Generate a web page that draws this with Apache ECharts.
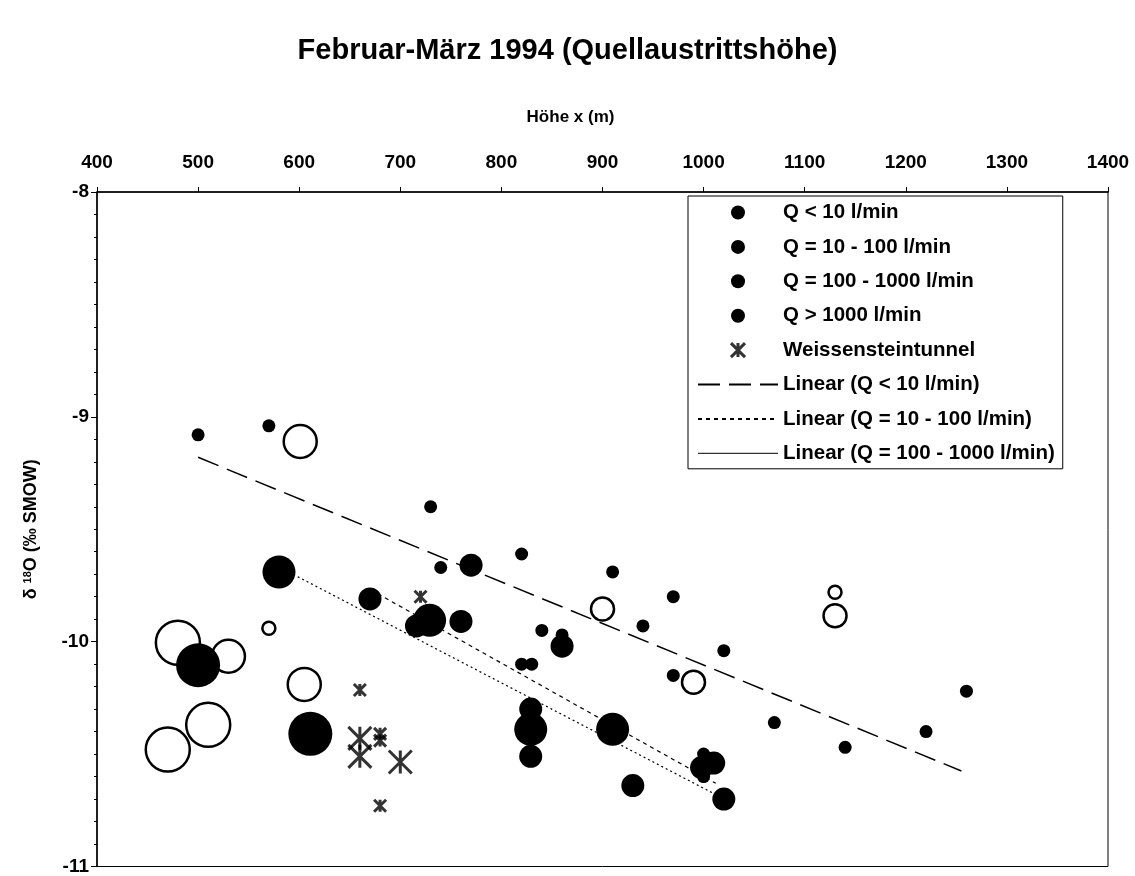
<!DOCTYPE html>
<html>
<head>
<meta charset="utf-8">
<title>Februar-März 1994 (Quellaustrittshöhe)</title>
<script src="https://cdn.jsdelivr.net/npm/echarts@6/dist/echarts.min.js"></script>
<style>
  html, body { margin: 0; padding: 0; background: #fff; }
  #chart { width: 1135px; height: 876px; }
</style>
</head>
<body>
<div id="chart"></div>
<script>
// Spring outlet elevation (m) against δ18O (‰ SMOW), February–March 1994,
// grouped by discharge class. "Open" arrays are springs drawn as rings.
const qLt10 = [
  [500, -9.08], [570, -9.04], [730, -9.40], [820, -9.61], [740, -9.67],
  [910, -9.69], [970, -9.80], [840, -9.95], [940, -9.93], [860, -9.97],
  [1020, -10.04], [970, -10.15], [820, -10.10], [830, -10.10], [1070, -10.36],
  [1140, -10.47], [1260, -10.22], [1220, -10.40], [1000, -10.50], [1000, -10.60]
];
const qLt10Open = [[570, -9.94], [1130, -9.78]];

const q10to100 = [
  [770, -9.66], [670, -9.81], [716, -9.93], [760, -9.91], [860, -10.02],
  [829, -10.30], [829, -10.51], [930, -10.64], [1010, -10.54], [998, -10.56],
  [1020, -10.70]
];
const q10to100Open = [[900, -9.855], [990, -10.18], [1130, -9.885]];

const q100to1000 = [[580, -9.69], [729, -9.905], [829, -10.39], [910, -10.39]];
const q100to1000Open = [[601, -9.11], [530, -10.065], [605, -10.19]];

const qGt1000 = [[500, -10.105], [611, -10.41]];
const qGt1000Open = [[480, -10.005], [510, -10.37], [470, -10.48]];

// Weissensteintunnel inflows: [elevation, δ18O, discharge class index]
const tunnel = [
  [720, -9.80, 0], [660, -10.215, 0], [680, -10.41, 0], [680, -10.44, 0],
  [680, -10.73, 0], [660, -10.43, 1], [660, -10.51, 1], [700, -10.535, 1]
];

// Linear fits: end points of each regression line
const fitLt10 = [[500, -9.18], [1255, -10.575]];
const fit10to100 = [[671, -9.77], [1012, -10.63]];
const fit100to1000 = [[581, -9.67], [1012, -10.68]];

const names = [
  'Q < 10 l/min', 'Q = 10 - 100 l/min', 'Q = 100 - 1000 l/min', 'Q > 1000 l/min',
  'Weissensteintunnel', 'Linear (Q < 10 l/min)', 'Linear (Q = 10 - 100 l/min)',
  'Linear (Q = 100 - 1000 l/min)'
];

const FONT = '"Liberation Sans", Arial, sans-serif';
const classSize = [13, 23, 33, 44];
const starPath = 'path://M0,0L10,10M10,0L0,10M5,0L5,10';
const noMarker = { color: 'rgba(0,0,0,0)', borderColor: 'rgba(0,0,0,0)', borderWidth: 0, opacity: 0 };

function classData(filled, open) {
  const ring = { color: 'rgba(0,0,0,0)', borderColor: '#000', borderWidth: 2.5 };
  return open.map(p => ({ value: p, itemStyle: ring })).concat(filled.map(p => ({ value: p })));
}

function scatter(name, filled, open, cls) {
  return {
    type: 'scatter', name: name,
    data: classData(filled, open),
    symbol: 'circle', symbolSize: classSize[cls],
    itemStyle: { color: '#000', opacity: 1 },
    emphasis: { disabled: true }
  };
}

function fitLine(name, pts, dash, width) {
  return {
    type: 'line', name: name, data: pts, symbol: 'none', silent: true,
    itemStyle: { color: '#000' },
    lineStyle: { color: '#000', width: width, type: dash },
    emphasis: { disabled: true }
  };
}

const chart = echarts.init(document.getElementById('chart'), null, { renderer: 'canvas' });

chart.setOption({
  backgroundColor: '#fff',
  animation: false,
  textStyle: { fontFamily: FONT, color: '#000' },
  title: {
    text: 'Februar-März 1994 (Quellaustrittshöhe)',
    left: 'center', top: 31,
    textStyle: { fontFamily: FONT, fontSize: 29, fontWeight: 'bold', color: '#000' }
  },
  grid: {
    left: 97, right: 27, top: 192, bottom: 8,
    show: true, borderColor: '#000', borderWidth: 1, backgroundColor: 'transparent'
  },
  legend: {
    orient: 'vertical', left: 688, top: 196,
    padding: [6, 8, 5, 9],
    itemWidth: 80, itemHeight: 14, itemGap: 13.4,
    backgroundColor: '#fff', borderColor: '#000', borderWidth: 1,
    selectedMode: false,
    textStyle: { fontFamily: FONT, fontSize: 20.5, fontWeight: 'bold', color: '#000', lineHeight: 20 },
    data: [
      { name: names[0], icon: 'circle' },
      { name: names[1], icon: 'circle' },
      { name: names[2], icon: 'circle' },
      { name: names[3], icon: 'circle' },
      { name: names[4], icon: starPath, itemStyle: { color: '#000', borderColor: '#000', borderWidth: 3 } },
      { name: names[5], itemStyle: noMarker },
      { name: names[6], itemStyle: noMarker },
      { name: names[7], itemStyle: noMarker, lineStyle: { type: 'solid', width: 1 } }
    ]
  },
  xAxis: {
    type: 'value', position: 'top',
    min: 400, max: 1400, interval: 100,
    name: 'Höhe x (m)', nameLocation: 'middle', nameGap: 66,
    nameTextStyle: { fontFamily: FONT, fontSize: 17, fontWeight: 'bold', color: '#000', padding: [0, 64, 0, 0] },
    axisLine: { show: true, lineStyle: { color: '#000', width: 1.5 } },
    axisTick: { show: true, length: 5, lineStyle: { color: '#000' } },
    axisLabel: {
      fontFamily: FONT, fontSize: 19, fontWeight: 'bold', color: '#000', margin: 20,
      formatter: v => String(v)
    },
    splitLine: { show: false }
  },
  yAxis: {
    type: 'value',
    min: -11, max: -8, interval: 1,
    name: '{a|δ }{s|18}{a|O (‰ SMOW)}', nameLocation: 'middle', nameGap: 56, nameRotate: 90,
    nameTextStyle: {
      rich: {
        a: { fontFamily: FONT, fontSize: 18, fontWeight: 'bold', color: '#000' },
        s: { fontFamily: FONT, fontSize: 11, fontWeight: 'bold', color: '#000', verticalAlign: 'top', padding: [0, 0, 8, 0] }
      }
    },
    axisLine: { show: true, lineStyle: { color: '#000', width: 1.5 } },
    axisTick: { show: true, length: 6, lineStyle: { color: '#000' } },
    minorTick: { show: true, splitNumber: 10, length: 3, lineStyle: { color: '#000' } },
    axisLabel: {
      fontFamily: FONT, fontSize: 19, fontWeight: 'bold', color: '#000', margin: 8,
      formatter: v => String(v)
    },
    splitLine: { show: false }
  },
  series: [
    fitLine(names[5], fitLt10, [22, 9], 1.5),
    fitLine(names[6], fit10to100, [4, 4], 1.2),
    fitLine(names[7], fit100to1000, [2, 3], 1.2),
    scatter(names[0], qLt10, qLt10Open, 0),
    scatter(names[1], q10to100, q10to100Open, 1),
    scatter(names[2], q100to1000, q100to1000Open, 2),
    scatter(names[3], qGt1000, qGt1000Open, 3),
    {
      type: 'scatter', name: names[4],
      data: tunnel,
      symbol: starPath, symbolKeepAspect: true,
      symbolSize: v => classSize[v[2]] - (v[2] === 0 ? 1 : 0),
      itemStyle: { color: '#000', borderColor: '#000', borderWidth: 3 },
      emphasis: { disabled: true }
    }
  ]
});
</script>
</body>
</html>
